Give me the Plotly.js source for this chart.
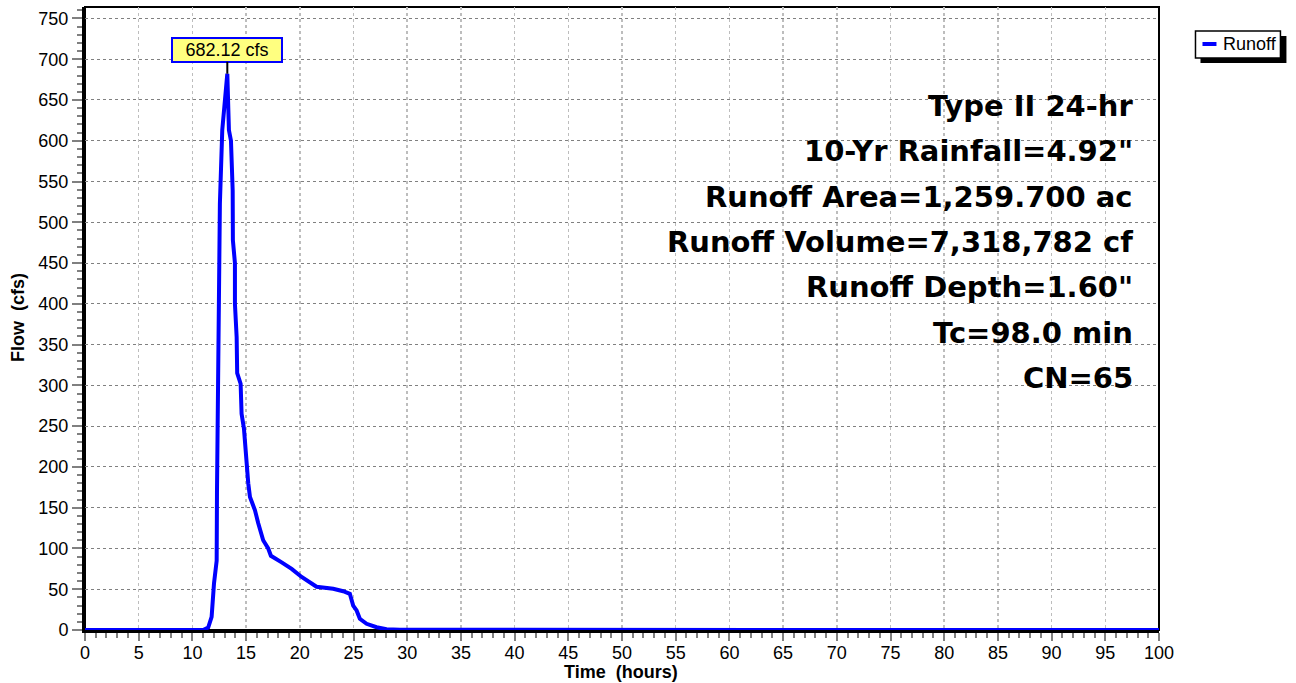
<!DOCTYPE html>
<html>
<head>
<meta charset="utf-8">
<script src="https://cdn.plot.ly/plotly-3.0.1.min.js"></script>
<style>
  html, body { margin: 0; padding: 0; background: #ffffff; }
  #chart { width: 1296px; height: 683px; }
</style>
</head>
<body>
<div id="chart"></div>
<script>
// Runoff hydrograph: time (hours) vs. flow (cfs)
const hours = [0, 11.0, 11.47, 11.79, 12.01, 12.26, 12.29, 12.44, 12.5, 12.56, 12.78, 13.25,
  13.4, 13.59, 13.75, 13.77, 13.96, 13.96, 14.12, 14.17, 14.49, 14.58, 14.8, 14.89, 15.05,
  15.2, 15.36, 15.82, 16.13, 16.59, 17.06, 17.31, 18.31, 19.24, 20.17, 21.56, 23.11, 24.04,
  24.66, 24.97, 25.29, 25.59, 26.22, 27.15, 28.08, 29.32, 100];
const flow = [0, 0, 3, 16, 57, 85, 171, 355, 478, 523, 613, 682.12,
  613, 600, 539, 478, 450, 400, 359, 315, 302, 265, 247, 229, 199,
  180, 163, 147, 131, 110, 100, 91, 83, 75, 65, 53, 50.5, 47.6,
  44.4, 30, 24, 13.7, 7.6, 3.4, 1, 0.2, 0];

const peakHour = 13.25;
const peakFlow = 682.12;
const peakLabel = peakFlow.toFixed(2) + ' cfs';

const seriesName = 'Runoff';
const xTitle = 'Time\u00a0\u00a0(hours)';
const yTitle = 'Flow\u00a0\u00a0(cfs)';
const infoLines = [
  'Type II 24-hr',
  '10-Yr Rainfall=4.92"',
  'Runoff Area=1,259.700 ac',
  'Runoff Volume=7,318,782 cf',
  'Runoff Depth=1.60"',
  'Tc=98.0 min',
  'CN=65'
];

// frame geometry (pixels)
const W = 1296, H = 683;
const M = { l: 85, r: 136.5, t: 7, b: 53 };
const pw = W - M.l - M.r, ph = H - M.t - M.b;
const px = v => (v - M.l) / pw;          // pixel x -> paper x
const py = v => (H - M.b - v) / ph;      // pixel y -> paper y

const sans = 'Liberation Sans, Arial, Helvetica, sans-serif';
const blue = '#0000ff';
const tickGray = '#808080';

const trace = {
  x: hours,
  y: flow,
  type: 'scatter',
  mode: 'lines',
  name: seriesName,
  line: { color: blue, width: 4 },
  showlegend: false,
  hoverinfo: 'x+y'
};

const annotations = [];

// peak callout
annotations.push({
  x: peakHour, y: peakFlow, xref: 'x', yref: 'y',
  text: peakLabel,
  showarrow: true, arrowhead: 0, arrowwidth: 2, arrowcolor: '#000000',
  ax: 0, ay: -24,
  bgcolor: '#ffff80', bordercolor: blue, borderwidth: 2, borderpad: 2,
  width: 104, height: 18,
  font: { family: sans, size: 18, color: '#000000' }
});

// summary block on the right
const infoTop = 106, infoStep = 45.33;
infoLines.forEach((t, i) => {
  annotations.push({
    xref: 'paper', yref: 'paper',
    x: px(1135), y: py(infoTop + i * infoStep),
    xanchor: 'right', yanchor: 'middle',
    text: t, showarrow: false,
    font: { family: 'DejaVu Sans, sans-serif', size: 29, weight: 'bold', color: '#000000' }
  });
});

// axis titles
annotations.push({
  xref: 'paper', yref: 'paper', x: px(621), y: py(672),
  xanchor: 'center', yanchor: 'middle', showarrow: false,
  text: xTitle, font: { family: sans, size: 18, weight: 'bold', color: '#000000' }
});
annotations.push({
  xref: 'paper', yref: 'paper', x: px(18), y: py(318),
  xanchor: 'center', yanchor: 'middle', showarrow: false, textangle: -90,
  text: yTitle, font: { family: sans, size: 18, weight: 'bold', color: '#000000' }
});

// legend label
annotations.push({
  xref: 'paper', yref: 'paper',
  x: px(1222), y: py(44),
  xanchor: 'left', yanchor: 'middle',
  text: seriesName, showarrow: false,
  font: { family: sans, size: 18, color: '#000000' }
});

const shapes = [
  // frame around the plotting area
  { type: 'rect', xref: 'paper', yref: 'paper', x0: 0, x1: 1, y0: 0, y1: 1,
    line: { color: '#000000', width: 2 }, layer: 'below' },
  // legend shadow, box and swatch
  { type: 'rect', xref: 'paper', yref: 'paper', x0: px(1201), x1: px(1287), y0: py(63), y1: py(36),
    fillcolor: '#000000', line: { width: 0 } },
  { type: 'rect', xref: 'paper', yref: 'paper', x0: px(1196), x1: px(1281), y0: py(58), y1: py(31),
    fillcolor: '#ffffff', line: { color: '#000000', width: 1.5 } },
  { type: 'line', xref: 'paper', yref: 'paper', x0: px(1203), x1: px(1217), y0: py(44), y1: py(44),
    line: { color: blue, width: 4 } }
];

const layout = {
  width: W, height: H,
  margin: M,
  paper_bgcolor: '#ffffff',
  plot_bgcolor: '#ffffff',
  showlegend: false,
  font: { family: sans, size: 18, color: '#000000' },
  xaxis: {
    range: [0, 100], tick0: 0, dtick: 5,
    ticks: 'outside', ticklen: 8, tickwidth: 2, tickcolor: tickGray,
    ticklabelstandoff: -4,
    minor: { dtick: 1, ticks: 'outside', ticklen: 5, tickwidth: 2, tickcolor: tickGray, showgrid: false },
    showgrid: true, gridcolor: '#bdbdbd', gridwidth: 1.5, griddash: 'dot',
    showline: true, linecolor: '#000000', linewidth: 3,
    zeroline: false, layer: 'below traces',
    tickfont: { family: sans, size: 18, color: '#000000' }
  },
  yaxis: {
    range: [0, 764], tick0: 0, dtick: 50,
    ticks: 'outside', ticklen: 10, tickwidth: 2, tickcolor: tickGray,
    minor: { dtick: 10, ticks: 'outside', ticklen: 5, tickwidth: 2, tickcolor: tickGray, showgrid: false },
    showgrid: true, gridcolor: '#808080', gridwidth: 1, griddash: 'dot',
    showline: true, linecolor: '#000000', linewidth: 3,
    zeroline: false, layer: 'below traces',
    tickfont: { family: sans, size: 18, color: '#000000' }
  },
  annotations: annotations,
  shapes: shapes
};

Plotly.newPlot('chart', [trace], layout, { displayModeBar: false, staticPlot: true });
</script>
</body>
</html>
